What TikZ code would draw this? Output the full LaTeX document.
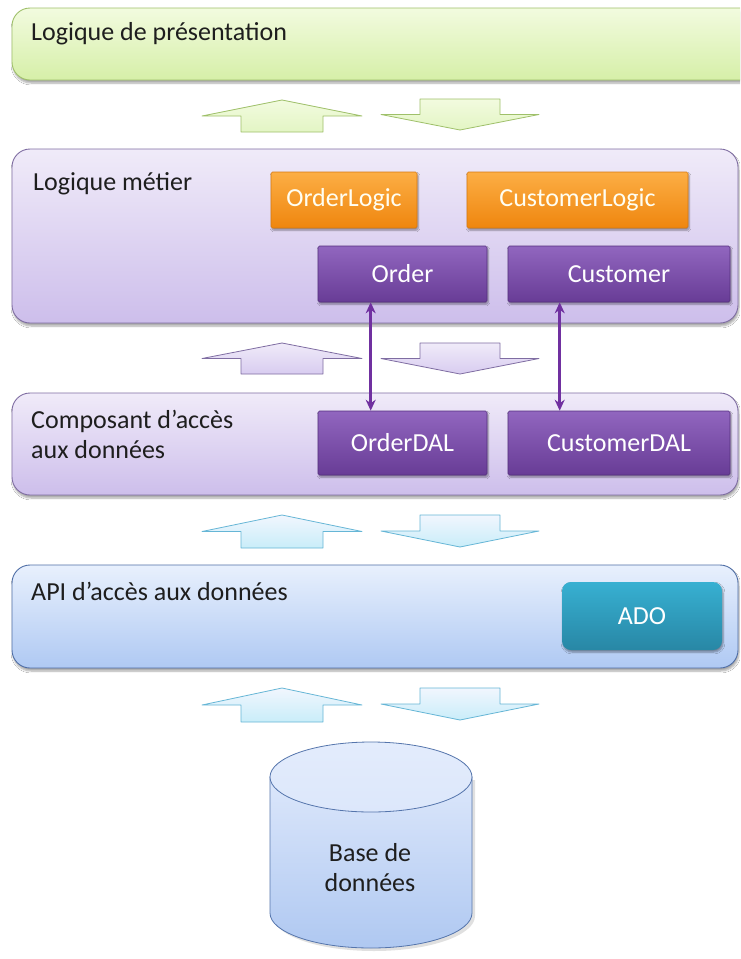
\documentclass[tikz,border=0pt]{standalone}
\usepackage{fontspec}
\setmainfont{Carlito}
\usetikzlibrary{arrows.meta,shadows.blur}
\definecolor{grnB}{HTML}{9FC06A}
\definecolor{grnT}{HTML}{F2FBDF}
\definecolor{grnM}{HTML}{D6EFA8}
\definecolor{lilB}{HTML}{7F6DA2}
\definecolor{lilT}{HTML}{F0EBF9}
\definecolor{lilM}{HTML}{CDBEEB}
\definecolor{bluB}{HTML}{4F6EA6}
\definecolor{bluT}{HTML}{E8F0FD}
\definecolor{bluM}{HTML}{AFC9F3}
\definecolor{purB}{HTML}{55307E}
\definecolor{purT}{HTML}{9166BF}
\definecolor{purM}{HTML}{683C96}
\definecolor{orgB}{HTML}{D77A10}
\definecolor{orgT}{HTML}{FCAE45}
\definecolor{orgM}{HTML}{EF860E}
\definecolor{adoT}{HTML}{37B0D2}
\definecolor{adoM}{HTML}{2887A5}
\definecolor{conn}{HTML}{7030A0}
\definecolor{cylB}{HTML}{5575AC}
\definecolor{cylT}{HTML}{DCE7FB}
\definecolor{cylM}{HTML}{AFC8F1}
\definecolor{arrGF}{HTML}{E3F5C4}
\definecolor{arrPF}{HTML}{D8CCF0}
\definecolor{arrBF}{HTML}{C9EDF9}
\definecolor{arrBB}{HTML}{66B6D6}
\definecolor{txt}{HTML}{1E1E1E}
\tikzset{
  x=1pt, y=-1pt,
  bigfont/.style={font=\fontsize{26}{31}\selectfont},
  layer/.style={draw, line width=0.9pt, rounded corners=18pt, inner sep=0pt,
    blur shadow={shadow xshift=1pt, shadow yshift=-3pt, shadow blur steps=6, shadow opacity=35}},
  preslayer/.style={layer, draw=grnB, top color=grnT, bottom color=grnM},
  bizlayer/.style={layer, draw=lilB, top color=lilT, bottom color=lilM},
  apilayer/.style={layer, draw=bluB, top color=bluT, bottom color=bluM},
  lbl/.style={bigfont, text=txt, inner sep=0pt, anchor=base west},
  comp/.style={bigfont, inner sep=0pt, rounded corners=1.5pt, line width=0.6pt,
    blur shadow={shadow xshift=1pt, shadow yshift=-2pt, shadow blur steps=5, shadow opacity=40}},
  purbox/.style={comp, draw=purB, top color=purT, bottom color=purM, text=white,
    minimum height=56pt},
  orgbox/.style={comp, draw=orgB, top color=orgT, bottom color=orgM, text=white!95!yellow,
    minimum height=56pt},
  adobox/.style={comp, draw=none, rounded corners=9pt, top color=adoT, bottom color=adoM, text=white,
    minimum width=160pt, minimum height=68pt},
  grnarr/.style={draw=grnB, line width=0.8pt, line join=round, top color=grnT, bottom color=arrGF},
  purarr/.style={draw=lilB, line width=0.8pt, line join=round, top color=lilT, bottom color=arrPF},
  bluarr/.style={draw=arrBB, line width=0.8pt, line join=round, top color=bluT!60!white, bottom color=arrBF},
  link/.style={draw=conn, line width=3pt, {Stealth[length=11pt,width=10pt]}-{Stealth[length=11pt,width=10pt]}},
}
\newcommand\blockup[4]{% cx, tip y, height, style
  \draw[#4] (#1,#2) -- (#1+80,#2+#3/2) -- (#1+41,#2+#3/2) -- (#1+41,#2+#3)
    -- (#1-41,#2+#3) -- (#1-41,#2+#3/2) -- (#1-80,#2+#3/2) -- cycle;}
\newcommand\blockdown[4]{% cx, top y, height, style
  \draw[#4] (#1-40,#2) -- (#1+40,#2) -- (#1+40,#2+#3/2) -- (#1+79,#2+#3/2)
    -- (#1,#2+#3) -- (#1-79,#2+#3/2) -- (#1-40,#2+#3/2) -- cycle;}
\begin{document}
\begin{tikzpicture}
\useasboundingbox (0,0) rectangle (740,959);
\fill[white] (0,0) rectangle (740,959);
\begin{scope}
\clip (0,0) rectangle (740,959);
% layers
\node[preslayer, minimum width=758pt, minimum height=72pt] (pres) at (391,44) {};
\node[bizlayer, minimum width=726pt, minimum height=174pt] (biz) at (375,236) {};
\node[bizlayer, minimum width=726pt, minimum height=102pt] (dal) at (375,444) {};
\node[apilayer, minimum width=726pt, minimum height=103pt] (api) at (375,616.5) {};
\end{scope}
% layer titles
\node[lbl] (tpres) at (31,40) {Logique de présentation};
\node[lbl] (tbiz) at (33,190) {Logique métier};
\node[lbl] (tdal1) at (31,428) {Composant d’accès};
\node[lbl] (tdal2) at (31,458) {aux données};
\node[lbl] (tapi) at (31,600) {API d’accès aux données};
% components
\node[orgbox, minimum width=146pt] (orderlogic) at (344,200) {OrderLogic};
\node[orgbox, minimum width=221pt] (customerlogic) at (577.5,200) {CustomerLogic};
\node[purbox, minimum width=169pt] (order) at (402.5,274) {Order};
\node[purbox, minimum width=222pt] (customer) at (619,274) {Customer};
\node[purbox, minimum width=169pt, minimum height=64pt] (orderdal) at (402.5,443) {OrderDAL};
\node[purbox, minimum width=222pt, minimum height=64pt] (customerdal) at (619,443) {CustomerDAL};
\node[adobox] (ado) at (642,616) {ADO};
% block arrows
\blockup{282}{100}{32}{grnarr}
\blockdown{460}{99}{31}{grnarr}
\blockup{282}{343}{31}{purarr}
\blockdown{460}{343}{31}{purarr}
\blockup{282}{515}{33}{bluarr}
\blockdown{460}{515}{32}{bluarr}
\blockup{282}{688}{34}{bluarr}
\blockdown{460}{688}{32}{bluarr}
% connectors
\draw[link] ([xshift=53pt]order.south west) -- ([xshift=53pt]orderdal.north west);
\draw[link] ([xshift=52pt]customer.south west) -- ([xshift=52pt]customerdal.north west);
% database
\fill[black, opacity=0.12] (273,780) -- (273,916) arc[start angle=180, end angle=0, x radius=101, y radius=35] -- (475,780) -- cycle;
\draw[draw=cylB, line width=0.8pt, top color=cylT, bottom color=cylM]
  (270,777) -- (270,913) arc[start angle=180, end angle=0, x radius=101, y radius=35] -- (472,777) -- cycle;
\draw[draw=cylB, line width=0.8pt, top color=cylT!80!white, bottom color=cylT] (371,777) ellipse[x radius=101, y radius=35];
\node[bigfont, text=txt, align=center, inner sep=0pt] (db) at (370,868) {Base de\\[-1pt]données};
\end{tikzpicture}
\end{document}
